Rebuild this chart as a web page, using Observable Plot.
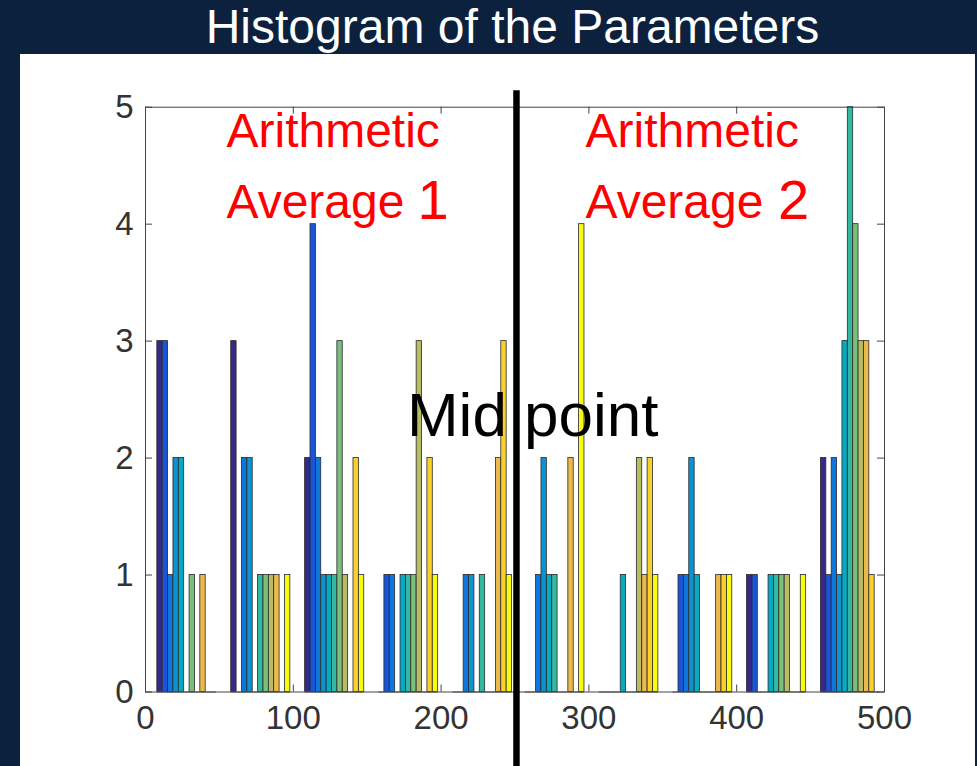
<!DOCTYPE html>
<html>
<head>
<meta charset="utf-8">
<script src="https://cdn.jsdelivr.net/npm/d3@7"></script>
<script src="https://cdn.jsdelivr.net/npm/@observablehq/plot@0.6"></script>
<style>
  html, body { margin: 0; padding: 0; }
  body {
    width: 977px; height: 766px; position: relative; overflow: hidden;
    background: #0b213e;
    font-family: "Liberation Sans", Arial, Helvetica, sans-serif;
  }
  #title {
    position: absolute; left: 0; top: 3px; width: 1025px;
    text-align: center; color: #ffffff; font-size: 48px; line-height: 48px;
  }
  #panel {
    position: absolute; left: 20px; top: 54px; width: 955px; height: 712px;
    background: #ffffff;
  }
  #panel svg { display: block; overflow: visible; }
</style>
</head>
<body>
<div id="title">Histogram of the Parameters</div>
<div id="panel"></div>
<script>
// Histogram bin centres (x)
const binCenters = [28, 78, 128, 178, 228, 277, 327, 377, 427, 477];

// Counts in each bin, one entry per parameter (11 parameters)
const bin1  = [3, 3, 1, 2, 2, 0, 1, 0, 1, 0, 0];
const bin2  = [3, 0, 2, 2, 0, 1, 1, 1, 1, 0, 1];
const bin3  = [2, 4, 2, 1, 1, 1, 3, 1, 0, 2, 1];
const bin4  = [0, 1, 1, 0, 1, 1, 1, 3, 0, 2, 1];
const bin5  = [0, 0, 1, 1, 0, 1, 0, 0, 2, 3, 1];
const bin6  = [0, 0, 1, 2, 1, 1, 0, 0, 2, 0, 4];
const bin7  = [0, 0, 0, 0, 1, 0, 0, 2, 1, 2, 1];
const bin8  = [0, 1, 1, 2, 1, 0, 0, 0, 1, 1, 1];
const bin9  = [1, 1, 0, 0, 1, 1, 1, 1, 0, 0, 1];
const bin10 = [2, 1, 2, 1, 3, 5, 4, 3, 3, 1, 0];
const binCounts = [bin1, bin2, bin3, bin4, bin5, bin6, bin7, bin8, bin9, bin10];

// Axis ticks
const xTicks = [0, 100, 200, 300, 400, 500];
const yTicks = [0, 1, 2, 3, 4, 5];

// Position of the dividing line between the two halves
const midPoint = 251;

// parula(11) colour per parameter
const parula11 = ["#352a87", "#1b55d7", "#0f77db", "#0d93d2", "#07aac1", "#33b8a1",
                  "#7abf7c", "#b8bd63", "#ecb94c", "#fad12b", "#f9fb0e"];

// Grouped-bar layout: each bin holds its parameters side by side
const groupWidth = 40;
const nParams = parula11.length;
const barW = groupWidth / nParams;

const bars = [];
binCounts.forEach((counts, b) => {
  const start = binCenters[b] - groupWidth / 2;
  counts.forEach((count, i) => {
    bars.push({x1: start + i * barW, x2: start + (i + 1) * barW, count, param: i});
  });
});
const groups = binCenters.map(c => ({x1: c - groupWidth / 2, x2: c + groupWidth / 2}));

const W = 955, H = 712;
const mL = 125, mR = 91, mT = 52.7, mB = 74.5;
const plotW = W - mL - mR, plotH = H - mT - mB;
const tickLen = 7;
const axisColor = "#333333";

const chart = Plot.plot({
  width: W, height: H,
  marginLeft: mL, marginRight: mR, marginTop: mT, marginBottom: mB,
  style: {
    fontFamily: '"Liberation Sans", Arial, Helvetica, sans-serif',
    fontSize: "33px", color: axisColor, background: "white", overflow: "visible"
  },
  x: {domain: [0, 500], ticks: xTicks, tickFormat: d => String(d), tickSize: 0, tickPadding: 14, label: null},
  y: {domain: [0, 5], ticks: yTicks, tickFormat: d => String(d), tickSize: 0, tickPadding: 12, label: null},
  color: {type: "ordinal", domain: d3.range(nParams), range: parula11},
  marks: [
    Plot.rect(bars.filter(d => d.count > 0), {
      x1: "x1", x2: "x2", y1: 0, y2: "count", fill: "param",
      stroke: "#2a2a2a", strokeWidth: 0.8
    }),
    // empty bins show as a baseline segment
    Plot.ruleY(groups, {y: 0, x1: "x1", x2: "x2", stroke: "#555", strokeWidth: 1.2}),
    Plot.frame({stroke: "#444", strokeWidth: 1}),
    // inward tick marks on all four sides
    Plot.tickX(xTicks, {x: d => d, insetTop: plotH - tickLen, stroke: "#444"}),
    Plot.tickX(xTicks, {x: d => d, insetBottom: plotH - tickLen, stroke: "#444"}),
    Plot.tickY(yTicks, {y: d => d, insetRight: plotW - tickLen, stroke: "#444"}),
    Plot.tickY(yTicks, {y: d => d, insetLeft: plotW - tickLen, stroke: "#444"}),
    // dividing line
    Plot.ruleX([midPoint], {x: d => d, y1: 5.14, y2: -0.65, stroke: "black", strokeWidth: 6.5}),
    // annotations
    Plot.text(["Arithmetic"], {x: 54.8, y: 4.79, text: d => d, textAnchor: "start", lineAnchor: "middle", fontSize: 48, fill: "#ff0000"}),
    Plot.text(["Average"], {x: 54.8, y: 4.18, text: d => d, textAnchor: "start", lineAnchor: "middle", fontSize: 48, fill: "#ff0000"}),
    Plot.text(["1"], {x: 184, y: 4.20, text: d => d, textAnchor: "start", lineAnchor: "middle", fontSize: 56, fill: "#ff0000"}),
    Plot.text(["Arithmetic"], {x: 297.7, y: 4.79, text: d => d, textAnchor: "start", lineAnchor: "middle", fontSize: 48, fill: "#ff0000"}),
    Plot.text(["Average"], {x: 297.7, y: 4.18, text: d => d, textAnchor: "start", lineAnchor: "middle", fontSize: 48, fill: "#ff0000"}),
    Plot.text(["2"], {x: 428, y: 4.20, text: d => d, textAnchor: "start", lineAnchor: "middle", fontSize: 56, fill: "#ff0000"}),
    Plot.text(["Mid point"], {x: 262, y: 2.36, text: d => d, textAnchor: "middle", lineAnchor: "middle", fontSize: 62, fill: "#000000"})
  ]
});
document.getElementById("panel").appendChild(chart);
</script>
</body>
</html>
